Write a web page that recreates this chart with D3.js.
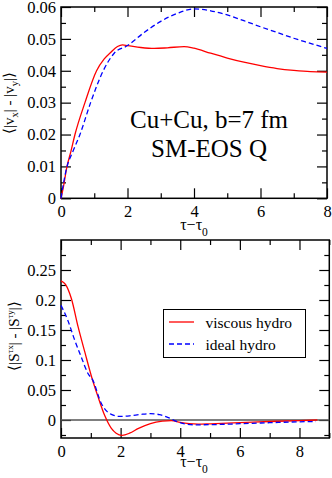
<html>
<head>
<script src="https://d3js.org/d3.v7.min.js"></script>
<style>
  body { margin:0; background:#fff; }
  text { font-family: "Liberation Serif", "Times New Roman", serif; fill:#000; }
</style>
</head>
<body>
<svg id="chart" width="332" height="478"></svg>
<script>
// ---- data ----
// top panel: <|vx| - |vy|> vs tau - tau0
var viscousTopT = [0, 0.08, 0.17, 0.3, 0.42, 0.72, 1.07, 1.3, 1.5, 1.7, 1.85, 2.0, 2.4, 2.8, 3.2, 3.7, 4.0, 4.5, 5.0, 5.5, 6.0, 6.5, 7.0, 7.5, 8.0];
var viscousTopV = [0, 0.004, 0.0095, 0.0148, 0.020, 0.030, 0.040, 0.0437, 0.0458, 0.0476, 0.0481, 0.0479, 0.0473, 0.0470, 0.0472, 0.0476, 0.0471, 0.0455, 0.0440, 0.0427, 0.0416, 0.0407, 0.0401, 0.0397, 0.0396];
var idealTopT = [0, 0.08, 0.17, 0.35, 0.57, 0.89, 1.27, 1.6, 2.0, 2.5, 3.0, 3.5, 4.0, 4.5, 5.0, 5.5, 6.0, 6.5, 7.0, 7.5, 8.0];
var idealTopV = [0, 0.005, 0.0095, 0.0145, 0.020, 0.030, 0.040, 0.0455, 0.0479, 0.052, 0.0555, 0.058, 0.0594, 0.0588, 0.0575, 0.0557, 0.0538, 0.052, 0.0502, 0.0486, 0.047];

// bottom panel: <|S^tx| - |S^ty|> vs tau - tau0
var viscousBotT = [0, 0.15, 0.35, 0.57, 0.8, 1.02, 1.24, 1.47, 1.69, 1.85, 2.05, 2.3, 2.6, 3.0, 3.4, 3.7, 4.0, 4.3, 4.6, 5.0, 6.0, 7.0, 8.0, 8.6];
var viscousBotV = [0.232, 0.226, 0.202, 0.156, 0.113, 0.073, 0.039, 0.007, -0.014, -0.022, -0.0255, -0.022, -0.014, -0.006, -0.002, -0.001, -0.004, -0.006, -0.0068, -0.0063, -0.0045, -0.0025, -0.001, 0];
var idealBotT = [0, 0.23, 0.46, 0.68, 0.9, 1.07, 1.35, 1.55, 1.75, 1.95, 2.3, 2.7, 3.0, 3.3, 3.6, 3.9, 4.2, 4.5, 5.0, 6.0, 7.0, 8.0, 8.55];
var idealBotV = [0.191, 0.166, 0.133, 0.105, 0.078, 0.066, 0.028, 0.014, 0.008, 0.006, 0.007, 0.0095, 0.0105, 0.009, 0.004, -0.003, -0.007, -0.008, -0.0078, -0.0062, -0.0045, -0.003, -0.0025];

var topXTicks = [0, 2, 4, 6, 8];
var topXMinor = [1, 3, 5, 7];
var topYTicks = [0, 0.01, 0.02, 0.03, 0.04, 0.05, 0.06];
var topYLabels = ["0", "0.01", "0.02", "0.03", "0.04", "0.05", "0.06"];
var topYMinor = [0.005, 0.015, 0.025, 0.035, 0.045, 0.055];
var botXTicks = [0, 2, 4, 6, 8];
var botXMinor = [1, 3, 5, 7, 9];
var botYTicks = [0, 0.05, 0.1, 0.15, 0.2, 0.25];
var botYLabels = ["0", "0.05", "0.1", "0.15", "0.2", "0.25"];
var botYMinor = [-0.025, 0.025, 0.075, 0.125, 0.175, 0.225, 0.275];

var seriesNames = ["viscous hydro", "ideal hydro"];

var svg = d3.select("#chart");

function zip(t, v) { return t.map(function(d, i){ return [d, v[i]]; }); }

function panel(box, xDom, yDom, xT, xM, yT, yL, yM) {
    var x = d3.scaleLinear().domain(xDom).range([box.left, box.right]);
    var y = d3.scaleLinear().domain(yDom).range([box.bottom, box.top]);
    var g = svg.append("g");

    function addAxis(axis, tr, labels) {
        var a = g.append("g").attr("transform", tr).call(axis);
        a.select(".domain").remove();
        a.selectAll("line").attr("stroke", "#000").attr("stroke-width", 1.2);
        a.selectAll("text").style("font-size", "16.5px")
            .style("font-family", '"Liberation Serif", serif').attr("fill", "#000");
        if (!labels) a.selectAll("text").remove();
        return a;
    }
    // bottom / top
    addAxis(d3.axisBottom(x).tickValues(xT).tickSize(-10).tickPadding(7).tickFormat(d3.format("d")),
        "translate(0," + box.bottom + ")", true);
    addAxis(d3.axisBottom(x).tickValues(xM).tickSize(-5), "translate(0," + box.bottom + ")", false);
    addAxis(d3.axisTop(x).tickValues(xT).tickSize(-10), "translate(0," + box.top + ")", false);
    addAxis(d3.axisTop(x).tickValues(xM).tickSize(-5), "translate(0," + box.top + ")", false);
    // left / right
    addAxis(d3.axisLeft(y).tickValues(yT).tickSize(-10).tickPadding(5)
        .tickFormat(function(d, i){ return yL[i]; }), "translate(" + box.left + ",0)", true);
    addAxis(d3.axisLeft(y).tickValues(yM).tickSize(-5), "translate(" + box.left + ",0)", false);
    addAxis(d3.axisRight(y).tickValues(yT).tickSize(-10), "translate(" + box.right + ",0)", false);
    addAxis(d3.axisRight(y).tickValues(yM).tickSize(-5), "translate(" + box.right + ",0)", false);

    g.append("rect")
        .attr("x", box.left).attr("y", box.top)
        .attr("width", box.right - box.left).attr("height", box.bottom - box.top)
        .attr("fill", "none").attr("stroke", "#000").attr("stroke-width", 1.5);
    return {x: x, y: y, g: g};
}

function drawLine(p, data, color, dash) {
    var line = d3.line().x(function(d){ return p.x(d[0]); }).y(function(d){ return p.y(d[1]); })
        .curve(d3.curveMonotoneX);
    p.g.append("path").datum(data)
        .attr("d", line).attr("fill", "none")
        .attr("stroke", color).attr("stroke-width", 1.3)
        .attr("stroke-dasharray", dash);
}

function xTitle(cx, base) {
    var t = svg.append("text").attr("x", cx).attr("y", base)
        .attr("text-anchor", "middle").style("font-size", "16px");
    t.append("tspan").text("\u03c4\u2212\u03c4");
    t.append("tspan").attr("dy", 6).style("font-size", "11.5px").text("0");
}

// ---- top panel ----
var topPanel = panel({left: 61, right: 327, top: 7, bottom: 198.3}, [0, 8], [0, 0.06],
    topXTicks, topXMinor, topYTicks, topYLabels, topYMinor);
drawLine(topPanel, zip(viscousTopT, viscousTopV), "#ff0000", null);
drawLine(topPanel, zip(idealTopT, idealTopV), "#0000ff", "5,3");
xTitle(194, 230);

topPanel.g.append("text").attr("x", 209).attr("y", 128).attr("text-anchor", "middle")
    .style("font-size", "25px").text("Cu+Cu, b=7 fm");
topPanel.g.append("text").attr("x", 209).attr("y", 157).attr("text-anchor", "middle")
    .style("font-size", "25px").text("SM-EOS Q");

var yl1 = svg.append("text").attr("transform", "translate(14,103) rotate(-90)")
    .attr("text-anchor", "middle").style("font-size", "15px");
yl1.append("tspan").text("\u27e8|v");
yl1.append("tspan").attr("dy", 4).style("font-size", "10.5px").text("x");
yl1.append("tspan").attr("dy", -4).text("| - |v");
yl1.append("tspan").attr("dy", 4).style("font-size", "10.5px").text("y");
yl1.append("tspan").attr("dy", -4).text("|\u27e9");

// ---- bottom panel ----
var botPanel = panel({left: 61, right: 329.3, top: 240, bottom: 438}, [0, 9], [-0.03, 0.3],
    botXTicks, botXMinor, botYTicks, botYLabels, botYMinor);
botPanel.g.append("line")
    .attr("x1", botPanel.x(0)).attr("x2", botPanel.x(9))
    .attr("y1", botPanel.y(0)).attr("y2", botPanel.y(0))
    .attr("stroke", "#555").attr("stroke-width", 1.5);
drawLine(botPanel, zip(viscousBotT, viscousBotV), "#ff0000", null);
drawLine(botPanel, zip(idealBotT, idealBotV), "#0000ff", "5,3");
xTitle(194, 467);

var yl2 = svg.append("text").attr("transform", "translate(19,336) rotate(-90)")
    .attr("text-anchor", "middle").style("font-size", "15px");
yl2.append("tspan").text("\u27e8|S");
yl2.append("tspan").attr("dy", -6).style("font-size", "9px").text("\u03c4x");
yl2.append("tspan").attr("dy", 6).text("| - |S");
yl2.append("tspan").attr("dy", -6).style("font-size", "9px").text("\u03c4y");
yl2.append("tspan").attr("dy", 6).text("|\u27e9");

// legend
var lg = svg.append("g");
lg.append("rect").attr("x", 163.5).attr("y", 309.5).attr("width", 142).attr("height", 48)
    .attr("fill", "#fff").attr("stroke", "#000").attr("stroke-width", 1);
var legendColors = ["#ff0000", "#0000ff"];
var legendDash = [null, "5,3"];
seriesNames.forEach(function(name, i) {
    var yy = 322 + i * 22;
    lg.append("line").attr("x1", 169).attr("x2", 194).attr("y1", yy).attr("y2", yy)
        .attr("stroke", legendColors[i]).attr("stroke-width", 1.3)
        .attr("stroke-dasharray", legendDash[i]);
    lg.append("text").attr("x", 205.5).attr("y", yy + 5.5)
        .style("font-size", "15.5px").text(name);
});
</script>
</body>
</html>
